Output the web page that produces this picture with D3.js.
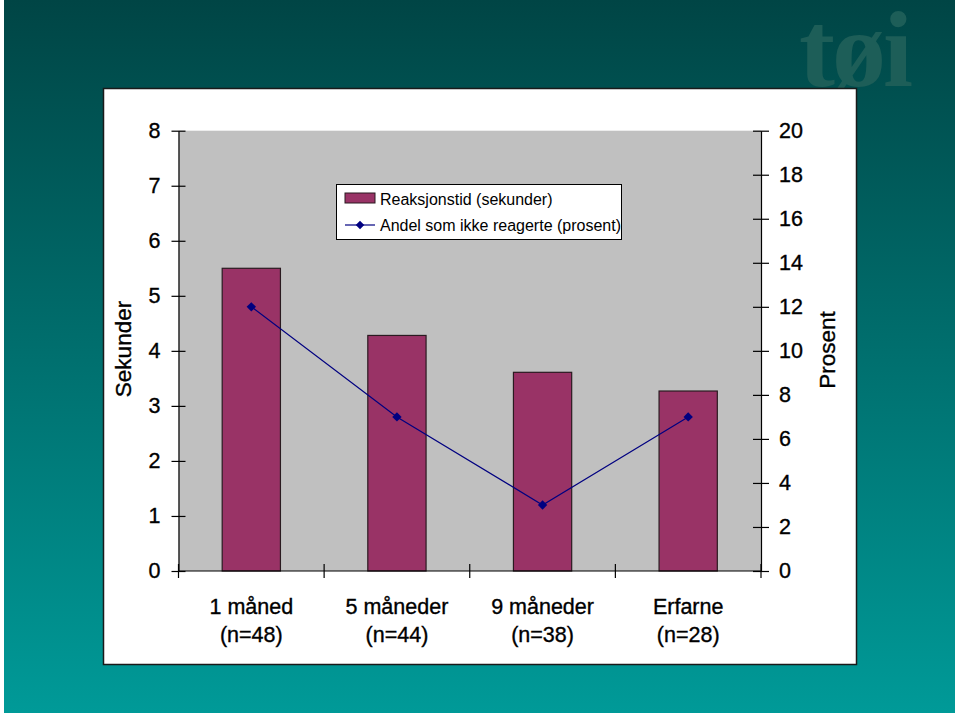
<!DOCTYPE html>
<html>
<head>
<meta charset="utf-8">
<script src="https://cdn.jsdelivr.net/npm/d3@7/dist/d3.min.js"></script>
<style>
html,body{margin:0;padding:0;background:#fff;}
svg{display:block;}
text{font-family:"Liberation Sans",Arial,sans-serif;}
.heavy{stroke:#000;stroke-width:0.35px;}
</style>
</head>
<body>
<svg id="chart" width="960" height="716"></svg>
<script>
const categories = ["1 måned", "5 måneder", "9 måneder", "Erfarne"];
const sampleLabels = ["(n=48)", "(n=44)", "(n=38)", "(n=28)"];
const reactionSeconds = [5.5, 4.28, 3.61, 3.27];
const nonResponsePercent = [12, 7, 3, 7];
const leftTicks = [0, 1, 2, 3, 4, 5, 6, 7, 8];
const rightTicks = [0, 2, 4, 6, 8, 10, 12, 14, 16, 18, 20];
const seriesNames = ["Reaksjonstid (sekunder)", "Andel som ikke reagerte (prosent)"];

const svg = d3.select("#chart");

// background gradient
const defs = svg.append("defs");
const grad = defs.append("linearGradient").attr("id", "bg").attr("x1", 0).attr("y1", 0).attr("x2", 0).attr("y2", 1);
grad.append("stop").attr("offset", "0%").attr("stop-color", "#004545");
grad.append("stop").attr("offset", "100%").attr("stop-color", "#009a98");
svg.append("rect").attr("x", 4).attr("y", 0).attr("width", 951).attr("height", 713).attr("fill", "url(#bg)");

// logo
svg.append("text").attr("x", 799).attr("y", 86)
  .style("font-family", "'Liberation Serif','DejaVu Serif',serif")
  .style("font-weight", "bold").style("font-size", "108px")
  .attr("fill", "#1d5e58").attr("letter-spacing", "-3")
  .text("tøi");

// panel
svg.append("rect").attr("x", 103.5).attr("y", 88.5).attr("width", 753).attr("height", 576)
  .attr("fill", "#fff").attr("stroke", "#1a1a1a").attr("stroke-width", 1.5);

const plot = {left: 178.5, right: 761, top: 130.7, bottom: 571};

const x = d3.scaleBand().domain(categories).range([plot.left, plot.right]).paddingInner(0.6).paddingOuter(0.3);
const yL = d3.scaleLinear().domain([0, 8]).range([plot.bottom, plot.top]);
const yR = d3.scaleLinear().domain([0, 20]).range([plot.bottom, plot.top]);

svg.append("rect").attr("x", plot.left).attr("y", plot.top)
  .attr("width", plot.right - plot.left).attr("height", plot.bottom - plot.top).attr("fill", "#c0c0c0");

// bars
svg.append("g").selectAll("rect").data(categories).join("rect")
  .attr("x", d => x(d))
  .attr("y", (d, i) => yL(reactionSeconds[i]))
  .attr("width", x.bandwidth())
  .attr("height", (d, i) => plot.bottom - yL(reactionSeconds[i]))
  .attr("fill", "#993366").attr("stroke", "#2a1a20").attr("stroke-width", 1.2);

// line
const cx = i => x(categories[i]) + x.bandwidth() / 2;
const line = d3.line().x((d, i) => cx(i)).y(d => yR(d));
svg.append("path").datum(nonResponsePercent).attr("d", line)
  .attr("fill", "none").attr("stroke", "#000080").attr("stroke-width", 1.2);
svg.append("g").selectAll("path").data(nonResponsePercent).join("path")
  .attr("transform", (d, i) => `translate(${cx(i)},${yR(d)}) rotate(45)`)
  .attr("d", d3.symbol().type(d3.symbolSquare).size(44))
  .attr("fill", "#000080");

// left axis
const gL = svg.append("g").attr("transform", `translate(${plot.left},0)`)
  .call(d3.axisLeft(yL).tickValues(leftTicks).tickSizeInner(7).tickSizeOuter(0).tickPadding(11));
gL.selectAll(".tick line").attr("x1", 7).attr("x2", -7);
// right axis
const gR = svg.append("g").attr("transform", `translate(${plot.right},0)`)
  .call(d3.axisRight(yR).tickValues(rightTicks).tickSizeInner(8).tickSizeOuter(0).tickPadding(10));
gR.selectAll(".tick line").attr("x1", -8).attr("x2", 8);
[gL, gR].forEach(g => {
  g.select(".domain").attr("stroke", "#000").attr("stroke-width", 1.2);
  g.selectAll(".tick line").attr("stroke", "#000").attr("stroke-width", 1.2);
  g.selectAll(".tick text").style("font-size", "21.5px").attr("fill", "#000").attr("class", "heavy")
    .style("font-family", "'Liberation Sans',Arial,sans-serif");
});

// bottom axis
const gB = svg.append("g");
gB.append("line").attr("x1", plot.left).attr("x2", plot.right).attr("y1", plot.bottom).attr("y2", plot.bottom)
  .attr("stroke", "#000").attr("stroke-width", 1.2);
const step = x.step();
const boundaries = categories.map(c => x(c) - (step - x.bandwidth()) / 2).concat([plot.right]);
gB.selectAll("line.tk").data(boundaries).join("line").attr("class", "tk")
  .attr("x1", d => d).attr("x2", d => d).attr("y1", plot.bottom - 7).attr("y2", plot.bottom + 7)
  .attr("stroke", "#000").attr("stroke-width", 1.2);
gB.selectAll("text.c1").data(categories).join("text").attr("class", "c1 heavy")
  .attr("x", d => x(d) + x.bandwidth() / 2).attr("y", 614).attr("text-anchor", "middle")
  .style("font-size", "21.5px").text(d => d);
gB.selectAll("text.c2").data(sampleLabels).join("text").attr("class", "c2 heavy")
  .attr("x", (d, i) => cx(i)).attr("y", 642).attr("text-anchor", "middle")
  .style("font-size", "21.5px").text(d => d);

// axis titles
svg.append("text").attr("class", "heavy").attr("transform", "translate(131,349) rotate(-90)").attr("text-anchor", "middle")
  .style("font-size", "22.5px").text("Sekunder");
svg.append("text").attr("class", "heavy").attr("transform", "translate(835,350) rotate(-90)").attr("text-anchor", "middle")
  .style("font-size", "22.5px").text("Prosent");

// legend
const lg = svg.append("g");
lg.append("rect").attr("x", 336.5).attr("y", 184.5).attr("width", 285).attr("height", 55)
  .attr("fill", "#fff").attr("stroke", "#000").attr("stroke-width", 1);
lg.append("rect").attr("x", 345).attr("y", 193).attr("width", 30).attr("height", 10)
  .attr("fill", "#993366").attr("stroke", "#2a1a20").attr("stroke-width", 1);
lg.append("line").attr("x1", 345).attr("x2", 375).attr("y1", 225).attr("y2", 225)
  .attr("stroke", "#000080").attr("stroke-width", 1.2);
lg.append("path").attr("transform", "translate(360,225) rotate(45)").attr("d", d3.symbol().type(d3.symbolSquare).size(36)).attr("fill", "#000080");
lg.selectAll("text").data(seriesNames).join("text")
  .attr("x", 380).attr("y", (d, i) => 205 + i * 26)
  .style("font-size", "16px").text(d => d);
</script>
</body>
</html>
